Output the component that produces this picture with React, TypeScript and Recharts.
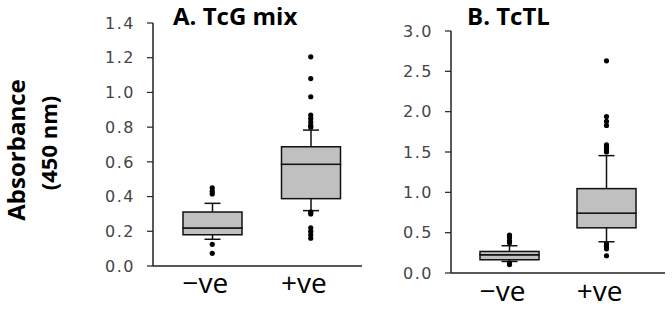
import React from "react";
import { Bar, ComposedChart, Scatter, XAxis, YAxis } from "recharts";

const categories = ["−ve", "+ve"];

// panel A: TcG mix
const aLow = [0.154, 0.319];
const aQ1 = [0.18, 0.388];
const aMedian = [0.219, 0.586];
const aQ3 = [0.311, 0.687];
const aHigh = [0.361, 0.783];
const aOutliers = [
  [0.45, 0.43, 0.415, 0.125, 0.073],
  [1.205, 1.08, 0.975, 0.87, 0.85, 0.83, 0.81, 0.8, 0.31, 0.3, 0.22, 0.2, 0.18, 0.16],
];
const aTicks = [0, 0.2, 0.4, 0.6, 0.8, 1.0, 1.2, 1.4];

// panel B: TcTL
const bLow = [0.143, 0.387];
const bQ1 = [0.164, 0.56];
const bMedian = [0.226, 0.742];
const bQ3 = [0.267, 1.046];
const bHigh = [0.338, 1.455];
const bOutliers = [
  [0.47, 0.44, 0.4, 0.375, 0.124, 0.105],
  [2.63, 1.94, 1.88, 1.83, 1.59, 1.56, 1.53, 1.5, 0.36, 0.33, 0.3, 0.214],
];
const bTicks = [0, 0.5, 1.0, 1.5, 2.0, 2.5, 3.0];

const buildRows = (lo: number[], q1: number[], med: number[], q3: number[], hi: number[]) =>
  categories.map((cat, i) => ({
    cat,
    base: lo[i],
    lowW: q1[i] - lo[i],
    boxLo: med[i] - q1[i],
    boxHi: q3[i] - med[i],
    highW: hi[i] - q3[i],
  }));

const buildPoints = (out: number[][]) =>
  out.flatMap((vals, i) => vals.map((v) => ({ cat: categories[i], v })));

const CAP = 16;

const LowWhisker = (p: any) => {
  const cx = p.x + p.width / 2;
  return (
    <g stroke="#111" strokeWidth={1.5}>
      <line x1={cx} x2={cx} y1={p.y} y2={p.y + p.height} />
      <line x1={cx - CAP / 2} x2={cx + CAP / 2} y1={p.y + p.height} y2={p.y + p.height} />
    </g>
  );
};

const HighWhisker = (p: any) => {
  const cx = p.x + p.width / 2;
  return (
    <g stroke="#111" strokeWidth={1.5}>
      <line x1={cx} x2={cx} y1={p.y} y2={p.y + p.height} />
      <line x1={cx - CAP / 2} x2={cx + CAP / 2} y1={p.y} y2={p.y} />
    </g>
  );
};

const BoxPart = (p: any) => (
  <rect x={p.x} y={p.y} width={p.width} height={p.height} fill="#c0c0c0" stroke="#111" strokeWidth={1.5} />
);

const Dot = (p: any) => <circle cx={p.cx} cy={p.cy} r={2.6} fill="#000" />;

const tickFont = { fontFamily: "DejaVu Sans", fontSize: 16, fill: "#444", letterSpacing: 1.5 };
const catFont = { fontFamily: "Open Sans", fontSize: 28, fill: "#000" };

function BoxPanel(props: {
  rows: any[];
  points: any[];
  ticks: number[];
  width: number;
  height: number;
  top: number;
  yWidth: number;
  xHeight: number;
  right: number;
  pad: { left: number; right: number };
  tickMargin: number;
}) {
  const { rows, points, ticks } = props;
  return (
    <ComposedChart
      width={props.width}
      height={props.height}
      data={rows}
      margin={{ top: props.top, right: props.right, bottom: 0, left: 0 }}
      barSize={59}
    >
      <XAxis
        dataKey="cat"
        allowDuplicatedCategory={false}
        padding={props.pad}
        tickLine={false}
        tickSize={0}
        tickMargin={props.tickMargin}
        height={props.xHeight}
        axisLine={{ stroke: "#222", strokeWidth: 1.5 }}
        tick={{ ...catFont, dx: -7 }}
      />
      <YAxis
        domain={[ticks[0], ticks[ticks.length - 1]]}
        ticks={ticks}
        width={props.yWidth}
        tickFormatter={(v: number) => v.toFixed(1)}
        tickSize={6}
        tickMargin={12}
        axisLine={{ stroke: "#222", strokeWidth: 1.5 }}
        tickLine={{ stroke: "#222", strokeWidth: 1.2 }}
        tick={tickFont}
        interval={0}
      />
      <Bar dataKey="base" stackId="s" fill="transparent" isAnimationActive={false} />
      <Bar dataKey="lowW" stackId="s" shape={LowWhisker} isAnimationActive={false} />
      <Bar dataKey="boxLo" stackId="s" shape={BoxPart} isAnimationActive={false} />
      <Bar dataKey="boxHi" stackId="s" shape={BoxPart} isAnimationActive={false} />
      <Bar dataKey="highW" stackId="s" shape={HighWhisker} isAnimationActive={false} />
      <Scatter data={points} dataKey="v" shape={Dot} isAnimationActive={false} />
    </ComposedChart>
  );
}

export default function App() {
  const rowsA = buildRows(aLow, aQ1, aMedian, aQ3, aHigh);
  const rowsB = buildRows(bLow, bQ1, bMedian, bQ3, bHigh);
  const ptsA = buildPoints(aOutliers);
  const ptsB = buildPoints(bOutliers);
  return (
    <div style={{ position: "absolute", left: 0, top: 0, width: 672, height: 309, background: "#fff" }}>
      <div style={{ position: "absolute", left: 100, top: 0 }}>
        <BoxPanel
          rows={rowsA}
          points={ptsA}
          ticks={aTicks}
          width={270}
          height={309}
          top={23}
          yWidth={53}
          xHeight={43}
          right={8}
          pad={{ left: 10, right: 2 }}
          tickMargin={7}
        />
      </div>
      <div style={{ position: "absolute", left: 390, top: 0 }}>
        <BoxPanel
          rows={rowsB}
          points={ptsB}
          ticks={bTicks}
          width={282}
          height={309}
          top={31}
          yWidth={61}
          xHeight={36}
          right={7}
          pad={{ left: 10, right: 10 }}
          tickMargin={8}
        />
      </div>
      <svg
        width={672}
        height={309}
        style={{ position: "absolute", left: 0, top: 0, pointerEvents: "none" }}
        fontFamily="Open Sans"
        fontWeight="bold"
      >
        <text x={173} y={25} fontSize={24}>A. TcG mix</text>
        <text x={467} y={25} fontSize={24}>B. TcTL</text>
        <text transform="translate(25,150) rotate(-90)" textAnchor="middle" fontSize={24}>Absorbance</text>
        <text transform="translate(57,143) rotate(-90)" textAnchor="middle" fontSize={22}>(450 nm)</text>
      </svg>
    </div>
  );
}
